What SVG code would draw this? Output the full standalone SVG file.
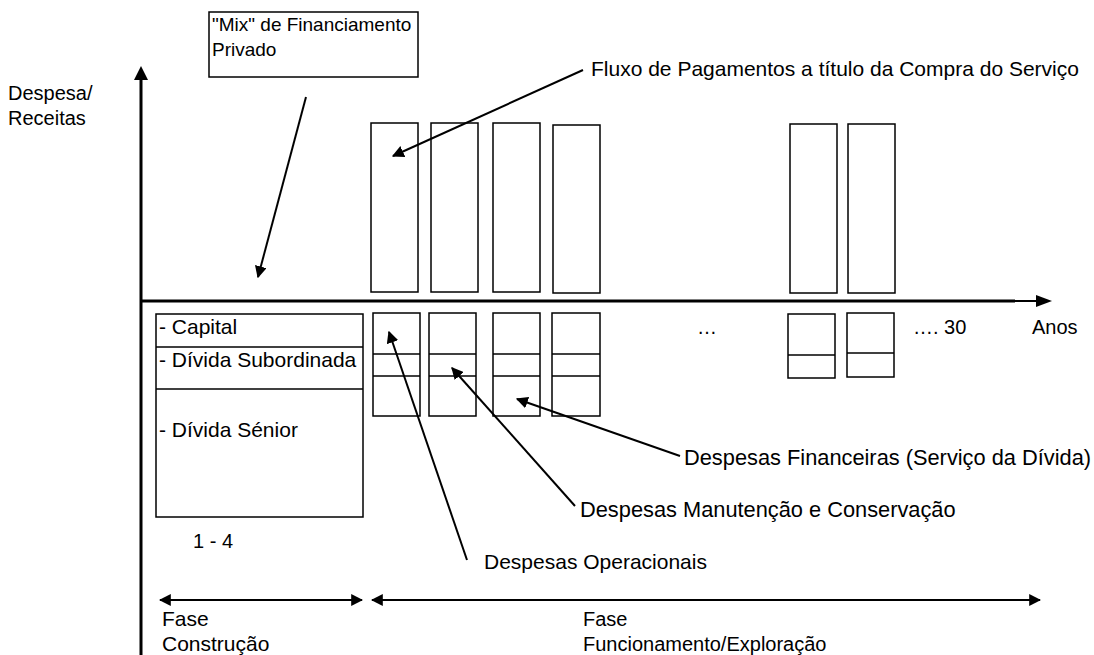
<svg xmlns="http://www.w3.org/2000/svg" width="1094" height="655" viewBox="0 0 1094 655">
<style>
text{font-family:"Liberation Sans",Arial,sans-serif;font-size:21px;fill:#000}
.sm{font-size:19px}
.md{font-size:20px}
.lg{font-size:21.8px}
.bx{fill:#fff;stroke:#000;stroke-width:1.5}
.ln{stroke:#000;stroke-width:1.5;fill:none}
.ax{stroke:#000;stroke-width:3;fill:none}
.ar{stroke:#000;stroke-width:2;fill:none}
</style>
<defs>
<marker id="ahl" viewBox="0 0 10 10" refX="9" refY="5" markerWidth="12" markerHeight="12" markerUnits="userSpaceOnUse" orient="auto"><path d="M0,0L10,5L0,10z" fill="#000"/></marker>
<marker id="ahs" viewBox="0 0 10 10" refX="1" refY="5" markerWidth="12" markerHeight="12" markerUnits="userSpaceOnUse" orient="auto"><path d="M10,0L0,5L10,10z" fill="#000"/></marker>
</defs>
<g id="axes">
<line class="ax" x1="141" y1="655" x2="141" y2="80"/>
<path d="M134,80L141,66L148,80z" fill="#000"/>
<line class="ax" x1="141" y1="301" x2="1015" y2="301"/>
<line class="ar" x1="1015" y1="301" x2="1038" y2="301"/>
<path d="M1036,295L1052,301L1036,307z" fill="#000"/>
</g>
<g id="mix-box"><rect class="bx" x="209" y="12" width="209" height="65"/><text class="sm" x="212" y="31">"Mix" de Financiamento</text><text class="sm" x="212" y="56">Privado</text></g>
<g id="y-label"><text class="md" x="8" y="100">Despesa/</text><text class="md" x="8" y="125">Receitas</text></g>
<g id="revenue-bars">
<rect class="bx" x="371" y="123" width="47" height="169"/>
<rect class="bx" x="431" y="123" width="47" height="169"/>
<rect class="bx" x="493" y="123" width="47" height="169"/>
<rect class="bx" x="553" y="125" width="47" height="168"/>
<rect class="bx" x="790" y="124" width="47" height="169"/>
<rect class="bx" x="848" y="124" width="47" height="169"/>
</g>
<g id="financing-stack">
<rect class="bx" x="156" y="314" width="207" height="203"/>
<line class="ln" x1="156" y1="347" x2="363" y2="347"/>
<line class="ln" x1="156" y1="389" x2="363" y2="389"/>
<text x="159" y="334">- Capital</text>
<text x="159" y="367">- Dívida Subordinada</text>
<text x="159" y="437">- Dívida Sénior</text>
<text class="md" x="193" y="548">1 - 4</text>
</g>
<g id="expense-bars">
<rect class="bx" x="373" y="313" width="47" height="103"/><line class="ln" x1="373" y1="354" x2="420" y2="354"/><line class="ln" x1="373" y1="376" x2="420" y2="376"/>
<rect class="bx" x="429" y="313" width="47" height="103"/><line class="ln" x1="429" y1="354" x2="476" y2="354"/><line class="ln" x1="429" y1="376" x2="476" y2="376"/>
<rect class="bx" x="493" y="313" width="47" height="103"/><line class="ln" x1="493" y1="354" x2="540" y2="354"/><line class="ln" x1="493" y1="376" x2="540" y2="376"/>
<rect class="bx" x="552" y="313" width="48" height="103"/><line class="ln" x1="552" y1="354" x2="600" y2="354"/><line class="ln" x1="552" y1="376" x2="600" y2="376"/>
<rect class="bx" x="788" y="314" width="47" height="64"/><line class="ln" x1="788" y1="355" x2="835" y2="355"/>
<rect class="bx" x="847" y="313" width="47" height="64"/><line class="ln" x1="847" y1="353" x2="894" y2="353"/>
</g>
<g id="axis-labels">
<text class="md" x="697" y="334">…</text>
<text class="md" x="913" y="334">…. 30</text>
<text class="md" x="1032" y="334">Anos</text>
</g>
<g id="labels">
<text x="591" y="76">Fluxo de Pagamentos a título da Compra do Serviço</text>
<text class="lg" x="684" y="465">Despesas Financeiras (Serviço da Dívida)</text>
<text class="lg" x="580" y="517">Despesas Manutenção e Conservação</text>
<text x="484" y="569">Despesas Operacionais</text>
<text x="162" y="626">Fase</text><text x="162" y="651">Construção</text>
<text class="md" x="583" y="626">Fase</text><text class="md" x="583" y="651">Funcionamento/Exploração</text>
</g>
<g id="connectors">
<line class="ar" x1="306" y1="97" x2="258" y2="277" marker-end="url(#ahl)"/>
<line class="ar" x1="583" y1="70" x2="393" y2="156" marker-end="url(#ahl)"/>
<line class="ar" x1="467" y1="560" x2="389" y2="332" marker-end="url(#ahl)"/>
<line class="ar" x1="575" y1="506" x2="452" y2="368" marker-end="url(#ahl)"/>
<line class="ar" x1="680" y1="456" x2="517" y2="399" marker-end="url(#ahl)"/>
<line class="ar" x1="160" y1="600" x2="362" y2="600" marker-start="url(#ahs)" marker-end="url(#ahl)"/>
<line class="ar" x1="372" y1="600" x2="1040" y2="600" marker-start="url(#ahs)" marker-end="url(#ahl)"/>
</g>
</svg>
